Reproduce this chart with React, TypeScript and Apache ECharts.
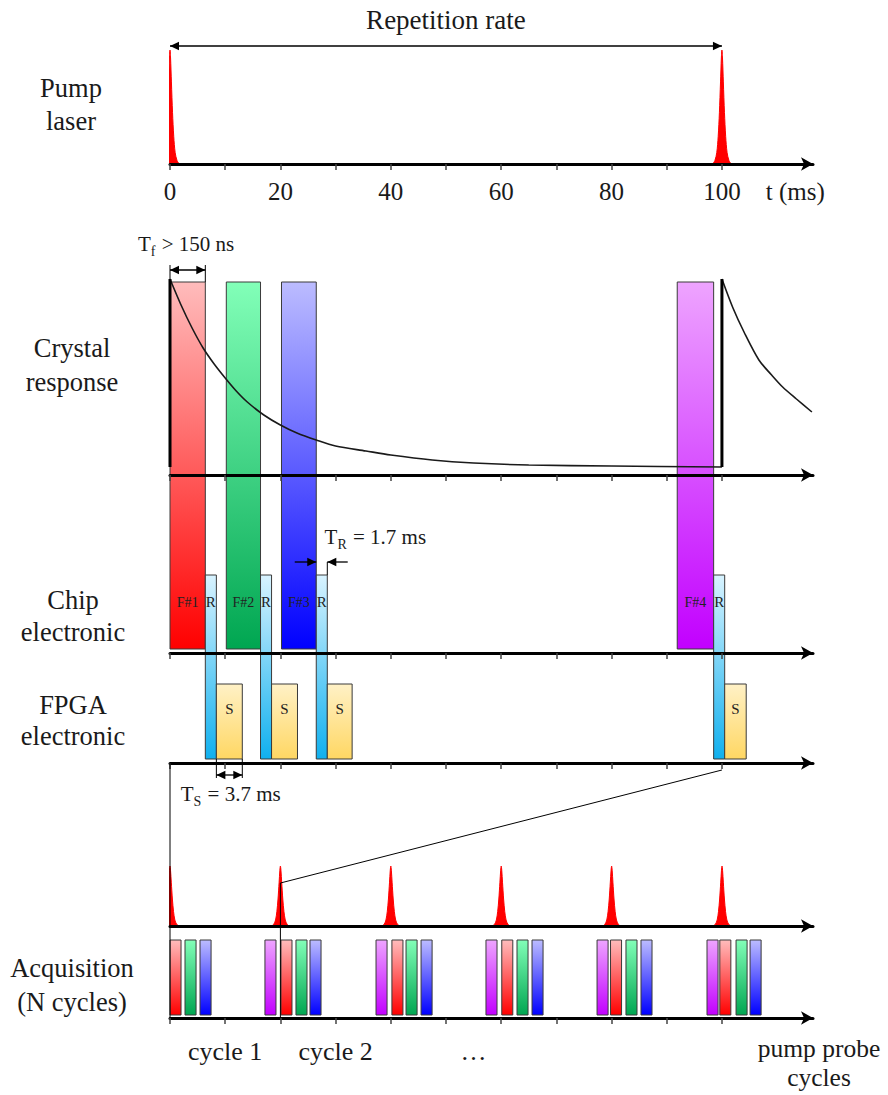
import React, { useEffect, useRef } from "react";
import * as echarts from "echarts";

const FONT = "'Liberation Serif', 'Times New Roman', 'DejaVu Serif', serif";
const INK = "#1a1a1a";

// ---------------- Data ----------------
// Pump laser (ms)
const pumpPulseTimes = [0, 100];
const timeTickValues = [0, 10, 20, 30, 40, 50, 60, 70, 80, 90, 100];
const timeLabelValues = [0, 20, 40, 60, 80, 100];
const timeUnitLabelPos = 113.3;
const timeAxisMax = 116.5;

// Pulse shape (relative offset, relative height)
const pulseShapeOffsets = [-1, -0.75, -0.55, -0.4, -0.27, -0.15, -0.06, 0, 0.06, 0.15, 0.27, 0.4, 0.55, 0.75, 1];
const pulseShapeHeights = [0, 0.03, 0.1, 0.24, 0.45, 0.72, 0.93, 1, 0.93, 0.72, 0.45, 0.24, 0.1, 0.03, 0];

// Crystal response (ms, level)
const decay1Time = [0, 2, 4, 6, 8, 10, 12, 14, 17, 20, 23, 26.5, 30, 35.5, 40, 47.5, 55, 65, 80, 100];
const decay1Level = [484, 458, 435, 415, 399, 385, 372, 361, 348, 338, 330, 323, 317, 312, 308, 303, 300, 298, 297, 296];
const decay2Time = [100, 102, 104, 106.7, 109, 111, 113.5, 116.3];
const decay2Level = [484, 455, 431, 403, 388, 376, 364, 351];
const CRYSTAL_BASE = 296;
const CRYSTAL_PEAK = 484;

// Frames (F), readout (R), storage (S) in ms
const frameLabels = ["F#1", "F#2", "F#3", "F#4"];
const frameStart = [0, 10.2, 20.2, 91.9];
const frameEnd = [6.4, 16.4, 26.5, 98.5];
const readoutEnd = [8.4, 18.4, 28.5, 100.5];
const storeEnd = [13.1, 23.1, 33.0, 104.4];
const FRAME_BOTTOM = 114;
const FRAME_TOP = 481;
const READ_BOTTOM = 4;
const READ_TOP = 188;
const STORE_BOTTOM = 4;
const STORE_TOP = 79;

// Acquisition (pump-probe cycles)
const cycleTickValues = [0, 0.5, 1, 1.5, 2, 2.5, 3, 3.5, 4, 4.5, 5];
const cycleLabelValues = [0.5, 1.5, 2.75];
const cycleLabelTexts = ["cycle 1", "cycle 2", "…"];
const cycleAxisMax = 5.824;
const acqPulseCycles = [0, 1, 2, 3, 4, 5];
const acqRedStart = [0, 1.005, 2.01, 3.005, 3.99, 4.98];
const acqGreenStart = [0.136, 1.141, 2.138, 3.143, 4.13, 5.127];
const acqBlueStart = [0.272, 1.268, 2.274, 3.279, 4.266, 5.254];
const acqPurpleStart = [0.86, 1.866, 2.862, 3.868, 4.864];
const ACQ_BAR_WIDTH = 0.1;
const ACQ_BOTTOM = 3;
const ACQ_TOP = 78;
const ACQ_PULSE_BASE = 92;
const ACQ_PULSE_AMP = 60;

// Colours (top, bottom of gradient)
const frameColors: [string, string][] = [
  ["#ffbcbc", "#ff0000"],
  ["#82ffb8", "#00a651"],
  ["#bcbcff", "#0000ff"],
  ["#eea4ff", "#c200ff"],
];
const readColors: [string, string] = ["#d8f3ff", "#10b0ee"];
const storeColors: [string, string] = ["#fff1c6", "#ffd763"];

// ---------------- Helpers ----------------
function gradient(c: [string, string]) {
  return new echarts.graphic.LinearGradient(0, 0, 0, 1, [
    { offset: 0, color: c[0] },
    { offset: 1, color: c[1] },
  ]);
}

function rectSeries(
  xAxisIndex: number,
  yAxisIndex: number,
  data: number[][],
  colorFor: (i: number) => [string, string],
  labelFor?: (i: number) => string,
  labelLevel?: number,
  labelSize?: number
) {
  return {
    type: "custom",
    xAxisIndex,
    yAxisIndex,
    silent: true,
    z: 2,
    data,
    renderItem: (params: any, api: any) => {
      const x0 = api.value(0);
      const x1 = api.value(1);
      const y0 = api.value(2);
      const y1 = api.value(3);
      const a = api.coord([x0, y1]);
      const b = api.coord([x1, y0]);
      const children: any[] = [
        {
          type: "rect",
          shape: { x: a[0], y: a[1], width: b[0] - a[0], height: b[1] - a[1] },
          style: { fill: gradient(colorFor(params.dataIndex)), stroke: "#3a3a3a", lineWidth: 1 },
        },
      ];
      if (labelFor && labelLevel !== undefined) {
        const p = api.coord([(x0 + x1) / 2, labelLevel]);
        children.push({
          type: "text",
          x: p[0],
          y: p[1],
          style: {
            text: labelFor(params.dataIndex),
            fill: "#222",
            font: `${labelSize || 15}px ${FONT}`,
            align: "center",
            verticalAlign: "middle",
          },
        });
      }
      return { type: "group", children };
    },
  };
}

function pulseSeries(center: number, halfWidth: number, base: number, amp: number, xi: number, yi: number) {
  return {
    type: "line",
    xAxisIndex: xi,
    yAxisIndex: yi,
    data: pulseShapeOffsets.map((o, i) => [center + o * halfWidth, base + amp * pulseShapeHeights[i]]),
    smooth: 0.3,
    symbol: "none",
    clip: false,
    silent: true,
    z: 3,
    lineStyle: { color: "#ff0000", width: 1 },
    areaStyle: { color: "#ff0000", opacity: 1, origin: base },
  };
}

function timeAxis(gridIndex: number, offset: number, showLabels: boolean) {
  return {
    type: "value",
    gridIndex,
    min: 0,
    max: timeAxisMax,
    position: "bottom",
    offset,
    z: 6,
    splitLine: { show: false },
    axisLine: {
      show: true,
      onZero: false,
      symbol: ["none", "arrow"],
      symbolSize: [10, 12],
      lineStyle: { color: "#000", width: 3 },
    },
    axisTick: { show: true, customValues: timeTickValues, length: 6, lineStyle: { color: "#444", width: 1.5 } },
    axisLabel: showLabels
      ? {
          show: true,
          customValues: [...timeLabelValues, timeUnitLabelPos],
          formatter: (v: number) => (v === timeUnitLabelPos ? "t (ms)" : String(v)),
          margin: 15,
          fontSize: 25,
          fontFamily: FONT,
          color: INK,
        }
      : { show: false },
  };
}

function buildOption() {
  const series: any[] = [];
  // Pump pulses
  pumpPulseTimes.forEach((t) => series.push(pulseSeries(t, 1.7, 0, 1, 0, 0)));

  // Frames / readout / storage
  series.push(
    rectSeries(
      1,
      1,
      frameStart.map((s, i) => [s, frameEnd[i], FRAME_BOTTOM, FRAME_TOP]),
      (i) => frameColors[i],
      (i) => frameLabels[i],
      161,
      14
    )
  );
  series.push(
    rectSeries(
      1,
      1,
      frameEnd.map((s, i) => [s, readoutEnd[i], READ_BOTTOM, READ_TOP]),
      () => readColors,
      () => "R",
      161,
      15
    )
  );
  series.push(
    rectSeries(
      1,
      1,
      readoutEnd.map((s, i) => [s, storeEnd[i], STORE_BOTTOM, STORE_TOP]),
      () => storeColors,
      () => "S",
      54,
      15
    )
  );

  // Crystal response
  series.push({
    type: "line",
    xAxisIndex: 1,
    yAxisIndex: 1,
    data: decay1Time.map((t, i) => [t, decay1Level[i]]),
    smooth: 0.3,
    symbol: "none",
    silent: true,
    z: 4,
    lineStyle: { color: INK, width: 1.6 },
  });
  series.push({
    type: "line",
    xAxisIndex: 1,
    yAxisIndex: 1,
    data: decay2Time.map((t, i) => [t, decay2Level[i]]),
    smooth: 0.3,
    symbol: "none",
    silent: true,
    clip: false,
    z: 4,
    lineStyle: { color: INK, width: 1.6 },
  });
  pumpPulseTimes.forEach((t) =>
    series.push({
      type: "line",
      xAxisIndex: 1,
      yAxisIndex: 1,
      data: [
        [t, CRYSTAL_BASE],
        [t, CRYSTAL_PEAK],
      ],
      symbol: "none",
      silent: true,
      z: 4,
      lineStyle: { color: "#000", width: 3 },
    })
  );

  // Acquisition pulses
  acqPulseCycles.forEach((c) => series.push(pulseSeries(c, 0.08, ACQ_PULSE_BASE, ACQ_PULSE_AMP, 4, 2)));

  // Acquisition bars
  const acqBars: number[][] = [];
  const acqColorIdx: number[] = [];
  [acqRedStart, acqGreenStart, acqBlueStart, acqPurpleStart].forEach((arr, k) =>
    arr.forEach((s) => {
      acqBars.push([s, s + ACQ_BAR_WIDTH, ACQ_BOTTOM, ACQ_TOP]);
      acqColorIdx.push(k);
    })
  );
  series.push(rectSeries(4, 2, acqBars, (i) => frameColors[acqColorIdx[i]]));

  return {
    animation: false,
    backgroundColor: "#ffffff",
    textStyle: { fontFamily: FONT },
    grid: [
      { left: 170, top: 50, width: 643, height: 114 },
      { left: 170, top: 279, width: 643, height: 484 },
      { left: 170, top: 866, width: 643, height: 152 },
    ],
    xAxis: [
      timeAxis(0, 0, true),
      timeAxis(1, 0, false),
      timeAxis(1, -110, false),
      timeAxis(1, -288, false),
      {
        type: "value",
        gridIndex: 2,
        min: 0,
        max: cycleAxisMax,
        position: "bottom",
        offset: 0,
        z: 6,
        splitLine: { show: false },
        axisLine: {
          show: true,
          onZero: false,
          symbol: ["none", "arrow"],
          symbolSize: [10, 12],
          lineStyle: { color: "#000", width: 3 },
        },
        axisTick: { show: true, customValues: cycleTickValues, length: 6, lineStyle: { color: "#444", width: 1.5 } },
        axisLabel: {
          show: true,
          customValues: cycleLabelValues,
          formatter: (v: number) => cycleLabelTexts[cycleLabelValues.indexOf(v)] || "",
          margin: 20,
          fontSize: 26,
          fontFamily: FONT,
          color: INK,
        },
      },
      {
        type: "value",
        gridIndex: 2,
        min: 0,
        max: cycleAxisMax,
        position: "bottom",
        offset: -92,
        z: 6,
        splitLine: { show: false },
        axisLine: {
          show: true,
          onZero: false,
          symbol: ["none", "arrow"],
          symbolSize: [10, 12],
          lineStyle: { color: "#000", width: 3 },
        },
        axisTick: { show: false },
        axisLabel: { show: false },
      },
    ],
    yAxis: [
      { type: "value", gridIndex: 0, min: 0, max: 1, show: false },
      { type: "value", gridIndex: 1, min: 0, max: 484, show: false },
      { type: "value", gridIndex: 2, min: 0, max: 152, show: false },
    ],
    series,
  };
}

function arrowHead(tip: number[], dir: "left" | "right") {
  const len = 9;
  const hw = 4.2;
  const s = dir === "right" ? -1 : 1;
  return {
    type: "polygon",
    z: 20,
    silent: true,
    shape: {
      points: [
        [tip[0], tip[1]],
        [tip[0] + s * len, tip[1] - hw],
        [tip[0] + s * len, tip[1] + hw],
      ],
    },
    style: { fill: "#000" },
  };
}

function seg(a: number[], b: number[], w = 1.2) {
  return {
    type: "line",
    z: 20,
    silent: true,
    shape: { x1: a[0], y1: a[1], x2: b[0], y2: b[1] },
    style: { stroke: "#000", lineWidth: w },
  };
}

function label(x: number, y: number, text: string, size = 26.5, lineHeight = 33) {
  return {
    type: "text",
    z: 20,
    silent: true,
    x,
    y,
    style: {
      text,
      fill: INK,
      font: `${size}px ${FONT}`,
      fontSize: size,
      fontFamily: FONT,
      lineHeight,
      align: "center",
      verticalAlign: "middle",
      textAlign: "center",
      textVerticalAlign: "middle",
    },
  };
}

function subLabel(x: number, y: number, main: string, sub: string, rest: string) {
  const m = { fontSize: 21, fontFamily: FONT, font: `21px ${FONT}`, verticalAlign: "top", fill: INK, color: INK };
  const s = {
    fontSize: 14,
    fontFamily: FONT,
    font: `14px ${FONT}`,
    verticalAlign: "top",
    fill: INK,
    color: INK,
    padding: [11, 1, 0, 0],
  };
  return {
    type: "text",
    z: 20,
    silent: true,
    x,
    y,
    style: {
      text: `{m|${main}}{s|${sub}}{m|${rest}}`,
      rich: { m, s },
      font: `21px ${FONT}`,
      align: "center",
      verticalAlign: "middle",
      textAlign: "center",
      textVerticalAlign: "middle",
    },
  };
}

function buildGraphics(chart: any) {
  const pA = (x: number, y: number) => chart.convertToPixel({ xAxisIndex: 0, yAxisIndex: 0 }, [x, y]);
  const pB = (x: number, y: number) => chart.convertToPixel({ xAxisIndex: 1, yAxisIndex: 1 }, [x, y]);
  const pC = (x: number, y: number) => chart.convertToPixel({ xAxisIndex: 4, yAxisIndex: 2 }, [x, y]);
  const g: any[] = [];

  // Row labels
  g.push(label(71, 104, "Pump\nlaser"));
  g.push(label(72, 365, "Crystal\nresponse", 26.5, 34));
  g.push(label(73, 616, "Chip\nelectronic", 26.5, 32));
  g.push(label(73, 720, "FPGA\nelectronic", 26.5, 31));
  g.push(label(72, 985, "Acquisition\n(N cycles)", 26.5, 34));
  g.push(label(819, 1063, "pump probe\ncycles", 25.5, 29));

  // Repetition rate arrow
  const r0 = pA(pumpPulseTimes[0], 1.035);
  const r1 = pA(pumpPulseTimes[1], 1.035);
  g.push(seg(r0, r1, 1.3), arrowHead(r0, "left"), arrowHead(r1, "right"));
  const rt = pA((pumpPulseTimes[0] + pumpPulseTimes[1]) / 2, 1.26);
  g.push(label(rt[0], rt[1], "Repetition rate", 27));

  // T_f arrow
  const f0 = pB(frameStart[0], 493);
  const f1 = pB(frameEnd[0], 493);
  g.push(seg(pB(frameStart[0], FRAME_TOP), pB(frameStart[0], 498), 1));
  g.push(seg(pB(frameEnd[0], FRAME_TOP), pB(frameEnd[0], 498), 1));
  g.push(seg(f0, f1, 1.3), arrowHead(f0, "left"), arrowHead(f1, "right"));
  const ft = pB(2.9, 517);
  g.push(subLabel(ft[0], ft[1], "T", "f", " > 150 ns"));

  // T_R arrows
  const rr0 = pB(22.6, 201);
  const rr1 = pB(frameEnd[2], 201);
  g.push(seg(rr0, rr1, 1.3), arrowHead(rr1, "right"));
  const rl0 = pB(32.2, 201);
  const rl1 = pB(readoutEnd[2], 201);
  g.push(seg(rl0, rl1, 1.3), arrowHead(rl1, "left"));
  g.push(seg(pB(readoutEnd[2], READ_TOP), rl1, 1));
  const rtt = pB(37.2, 224);
  g.push(subLabel(rtt[0], rtt[1], "T", "R", " = 1.7 ms"));

  // T_S arrow
  g.push(seg(pB(readoutEnd[0], STORE_BOTTOM), pB(readoutEnd[0], -15), 1));
  g.push(seg(pB(storeEnd[0], STORE_BOTTOM), pB(storeEnd[0], -15), 1));
  const s0 = pB(readoutEnd[0], -12);
  const s1 = pB(storeEnd[0], -12);
  g.push(seg(s0, s1, 1.3), arrowHead(s0, "left"), arrowHead(s1, "right"));
  const stt = pB(11, -33);
  g.push(subLabel(stt[0], stt[1], "T", "S", " = 3.7 ms"));

  // Zoom connectors between the single-cycle view and the acquisition view
  g.push(seg(pB(pumpPulseTimes[0], 0), pC(acqPulseCycles[0], 0), 1));
  const d0 = pB(pumpPulseTimes[1], -7);
  const d1 = pC(acqPulseCycles[1], 135);
  g.push(seg(d0, d1, 1));
  g.push(seg(d1, pC(acqPulseCycles[1], 0), 1));

  return g;
}

export default function App() {
  const ref = useRef<HTMLDivElement>(null);
  useEffect(() => {
    if (!ref.current) return;
    const chart = echarts.init(ref.current, null, { renderer: "svg" });
    chart.setOption(buildOption() as any);
    chart.setOption({ graphic: buildGraphics(chart) } as any);
    return () => chart.dispose();
  }, []);
  return (
    <div
      ref={ref}
      style={{ position: "absolute", left: 0, top: 0, width: 888, height: 1095, background: "#ffffff" }}
    />
  );
}
